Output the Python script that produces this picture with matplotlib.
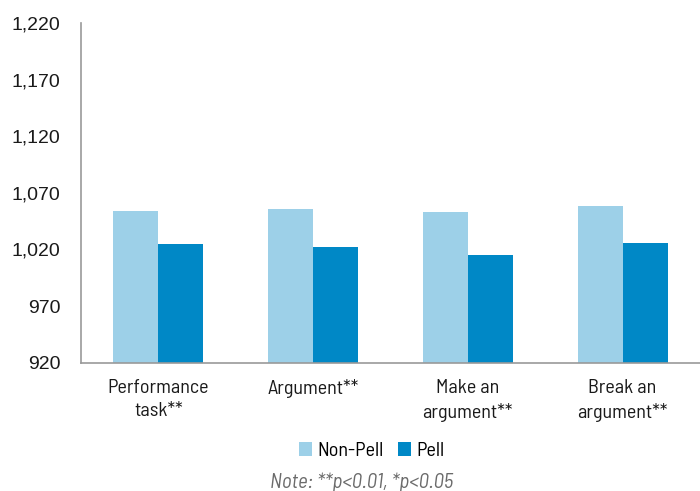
import numpy as np
import matplotlib
matplotlib.use('Agg')
import matplotlib.pyplot as plt
from matplotlib.ticker import FuncFormatter

categories = ['Performance\ntask**', 'Argument**', 'Make an\nargument**', 'Break an\nargument**']
non_pell = [1054, 1056, 1053, 1058]
pell = [1025, 1022, 1015, 1026]
y_ticks = [920, 970, 1020, 1070, 1120, 1170, 1220]

narrow = ['Barlow Semi Condensed', 'DejaVu Sans']
plt.rcParams['font.family'] = ['Liberation Sans', 'DejaVu Sans']

fig = plt.figure(figsize=(7, 4.91), dpi=100)
ax = fig.add_axes([0.1157, 0.2613, 0.8843, 0.6917])

x = np.arange(len(categories))
w = 0.29
ax.bar(x - w / 2, non_pell, w, color='#9DD0E8', label='Non-Pell')
ax.bar(x + w / 2, pell, w, color='#0088C6', label='Pell')

ax.set_xlim(-0.5, 3.5)
ax.set_ylim(920, 1220)
ax.set_yticks(y_ticks)
ax.yaxis.set_major_formatter(FuncFormatter(lambda v, p: f'{int(v):,}'))
ax.set_xticks(x)
ax.set_xticklabels(categories, fontsize=14.5, family=narrow, linespacing=1.35)
ax.tick_params(axis='both', length=0, colors='#1a1a1a')
ax.tick_params(axis='y', pad=15, labelsize=14)
ax.tick_params(axis='x', pad=12)

for s in ['top', 'right']:
    ax.spines[s].set_visible(False)
for s in ['left', 'bottom']:
    ax.spines[s].set_color('#999999')
    ax.spines[s].set_linewidth(1.2)

fig.legend(loc='center', bbox_to_anchor=(0.531, 0.0815), ncol=2, frameon=False,
           prop={'family': narrow, 'size': 14.5}, handlelength=0.65,
           handleheight=0.65, handletextpad=0.25, columnspacing=0.75,
           borderpad=0, borderaxespad=0)
fig.text(0.516, 0.018, 'Note: **p<0.01, *p<0.05', ha='center', va='center',
         fontsize=15, style='italic', color='#6b6b6b', family=narrow)

fig.savefig('out.png', dpi=100)
